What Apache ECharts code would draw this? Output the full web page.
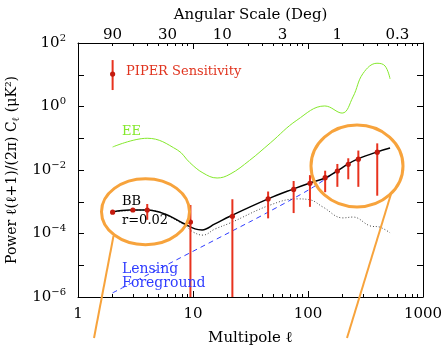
<!DOCTYPE html>
<html>
<head>
<meta charset="utf-8">
<script src="https://cdn.jsdelivr.net/npm/echarts@6/dist/echarts.min.js"></script>
<style>
  html, body { margin: 0; padding: 0; background: #fff; }
  #chart { width: 445px; height: 345px; }
</style>
</head>
<body>
<div id="chart"></div>
<script>
// EE spectrum
const eeL = [2.0, 4.0, 7.3, 9.4, 12.2, 16.2, 21, 31, 47, 80, 140, 198, 246, 301, 398, 467, 517];
const eeC = [0.053, 0.10, 0.043, 0.017, 0.0081, 0.0056, 0.0074, 0.020, 0.071, 0.37, 1.04, 0.62, 2.0, 11, 23, 19, 7.4];

// BB total, r = 0.02 + lensing
const bbL = [2, 2.8, 4, 5.7, 8.2, 10.4, 12, 15.5, 21, 45, 74, 104, 141, 179, 223, 272, 398, 517];
const bbC = [4.8e-4, 5.5e-4, 5.5e-4, 4.1e-4, 2.1e-4, 1.4e-4, 1.3e-4, 2.0e-4, 3.5e-4, 1.23e-3, 2.5e-3, 3.9e-3, 5.6e-3, 9.3e-3, 0.0155, 0.0224, 0.037, 0.049];

// primordial BB only (dotted)
const primL = [2, 4, 8.2, 10, 12.2, 15.5, 21, 47, 80, 104, 135, 201, 246, 346, 423, 517];
const primC = [4.8e-4, 5.5e-4, 2.0e-4, 1.12e-4, 8.9e-5, 1.38e-4, 2.14e-4, 7.9e-4, 1.23e-3, 1.15e-3, 6.8e-4, 3.1e-4, 3.3e-4, 1.74e-4, 1.58e-4, 1.05e-4];

// lensing foreground (dashed)
const lensL = [2, 31, 44, 104, 179];
const lensC = [1.35e-6, 2.3e-4, 4.5e-4, 2.5e-3, 9.3e-3];

// PIPER sensitivity: value, lower, upper
const pipL  = [2, 3, 4, 9.5, 22, 45, 75, 104, 141, 180, 224, 274, 400];
const pipC  = [4.7e-4, 5.5e-4, 5.5e-4, 2.3e-4, 3.5e-4, 1.23e-3, 2.45e-3, 3.8e-3, 5.75e-3, 9.3e-3, 0.0151, 0.0219, 0.0363];
const pipLo = [4.7e-4, 5.5e-4, 2.7e-4, 1e-6, 1e-6, 3.0e-4, 4.4e-4, 6.9e-4, 2.0e-3, 2.95e-3, 5.1e-3, 2.95e-3, 1.55e-3];
const pipHi = [4.7e-4, 5.5e-4, 8.5e-4, 7.9e-4, 1.2e-3, 2.1e-3, 4.5e-3, 6.9e-3, 9.5e-3, 0.0155, 0.0234, 0.041, 0.069];

// legend sample bar
const keyPoint = [2, 10.5, 3.3, 29];

// axis ticks
const xMajor = [1, 10, 100, 1000];
const xMinor = [2, 3, 4, 5, 6, 7, 8, 9, 20, 30, 40, 50, 60, 70, 80, 90, 200, 300, 400, 500, 600, 700, 800, 900];
const angTicks = [90, 30, 10, 3, 1, 0.3];

const serif = "'DejaVu Serif', serif";
const red = '#e8321e';
const orange = '#f7a33c';

function pairs(xs, ys) {
  return xs.map((x, i) => [x, ys[i]]);
}

function errBar(params, api) {
  const l = api.value(0);
  const mid = api.coord([l, api.value(1)]);
  const lo = api.coord([l, api.value(2)]);
  const hi = api.coord([l, api.value(3)]);
  return {
    type: 'group',
    children: [
      { type: 'line', shape: { x1: hi[0], y1: hi[1], x2: lo[0], y2: lo[1] },
        style: { stroke: red, lineWidth: 2 } },
      { type: 'circle', shape: { cx: mid[0], cy: mid[1], r: 2.6 },
        style: { fill: '#c41a0e' } }
    ]
  };
}

const chart = echarts.init(document.getElementById('chart'));

const axisLine = { show: true, lineStyle: { color: '#000', width: 1 } };

chart.setOption({
  animation: false,
  grid: { left: 78, right: 22, top: 43, bottom: 48, containLabel: false, outerBoundsMode: 'none' },
  xAxis: [
    {
      type: 'log', min: 1, max: 1000, position: 'bottom',
      axisLine: axisLine,
      axisTick: { inside: true, length: 6, lineStyle: { color: '#000' } },
      axisLabel: { color: '#000', fontFamily: serif, fontSize: 15, margin: 10, formatter: v => String(v) },
      splitLine: { show: false },
      name: 'Multipole ℓ', nameLocation: 'middle', nameGap: 34,
      nameTextStyle: { color: '#000', fontFamily: serif, fontSize: 15 }
    },
    {
      type: 'log', min: 1, max: 1000, position: 'bottom',
      axisLine: { show: false },
      axisTick: { inside: true, length: 3, customValues: xMinor, lineStyle: { color: '#000' } },
      axisLabel: { show: false },
      splitLine: { show: false }
    },
    {
      type: 'log', min: 1, max: 1000, position: 'top',
      axisLine: axisLine,
      axisTick: { inside: true, length: 6, customValues: xMajor, lineStyle: { color: '#000' } },
      axisLabel: {
        customValues: angTicks.map(a => 180 / a),
        formatter: v => String(Math.round(1800 / v) / 10),
        color: '#000', fontFamily: serif, fontSize: 15, margin: 0
      },
      splitLine: { show: false },
      name: 'Angular Scale (Deg)', nameLocation: 'middle', nameGap: 15,
      nameTextStyle: { color: '#000', fontFamily: serif, fontSize: 15 }
    },
    {
      type: 'log', min: 1, max: 1000, position: 'top',
      axisLine: { show: false },
      axisTick: { inside: true, length: 3, customValues: xMinor, lineStyle: { color: '#000' } },
      axisLabel: { show: false },
      splitLine: { show: false }
    }
  ],
  yAxis: [
    {
      type: 'log', min: 1e-6, max: 1e2, position: 'left',
      axisLine: axisLine,
      axisTick: { inside: true, length: 6, lineStyle: { color: '#000' } },
      axisLabel: {
        margin: 12,
        formatter: function (v) {
          const e = Math.round(Math.log10(v));
          if (e % 2 !== 0) return '';
          return '{b|10}{s|' + (e < 0 ? '\u2212' + (-e) : e) + '}';
        },
        rich: {
          b: { color: '#000', fontFamily: serif, fontSize: 15 },
          s: { color: '#000', fontFamily: serif, fontSize: 10, padding: [0, 0, 10, 0] }
        }
      },
      splitLine: { show: false },
      name: '{n|Power ℓ(ℓ+1)/(2π) C}{sub|ℓ}{n| (μK²)}',
      nameLocation: 'middle', nameRotate: 90, nameGap: 54,
      nameTextStyle: {
        rich: {
          n: { color: '#000', fontFamily: serif, fontSize: 14 },
          sub: { color: '#000', fontFamily: serif, fontSize: 10, padding: [8, 0, 0, 0] }
        }
      }
    },
    {
      type: 'log', min: 1e-6, max: 1e2, position: 'right',
      axisLine: axisLine,
      axisTick: { inside: true, length: 6, lineStyle: { color: '#000' } },
      axisLabel: { show: false },
      splitLine: { show: false }
    }
  ],
  series: [
    {
      name: 'EE', type: 'line', xAxisIndex: 0, yAxisIndex: 0,
      data: pairs(eeL, eeC), smooth: 0.4, symbol: 'none',
      lineStyle: { color: '#84e82c', width: 1 }
    },
    {
      name: 'lensing', type: 'line', xAxisIndex: 0, yAxisIndex: 0,
      data: pairs(lensL, lensC), smooth: 0.3, symbol: 'none',
      lineStyle: { color: '#2f3cff', width: 1, type: [5, 4] }
    },
    {
      name: 'primordial', type: 'line', xAxisIndex: 0, yAxisIndex: 0,
      data: pairs(primL, primC), smooth: 0.4, symbol: 'none',
      lineStyle: { color: '#444', width: 1, type: [1, 2] }
    },
    {
      name: 'BB', type: 'line', xAxisIndex: 0, yAxisIndex: 0,
      data: pairs(bbL, bbC), smooth: 0.4, symbol: 'none',
      lineStyle: { color: '#000', width: 1.5 }
    },
    {
      name: 'PIPER', type: 'custom', xAxisIndex: 0, yAxisIndex: 0,
      renderItem: errBar,
      encode: { x: 0, y: [1, 2, 3] },
      data: pipL.map((l, i) => [l, pipC[i], pipLo[i], pipHi[i]]).concat([keyPoint]),
      z: 5
    }
  ],
  graphic: [
    { type: 'text', z: 50, style: { text: 'PIPER Sensitivity', x: 126, y: 72, fill: '#e0341f', font: '13px ' + serif, verticalAlign: 'middle' } },
    { type: 'text', z: 50, style: { text: 'EE', x: 122, y: 132, fill: '#84e82c', font: '13px ' + serif, verticalAlign: 'middle' } },
    { type: 'text', z: 50, style: { text: 'BB', x: 122, y: 202, fill: '#000', font: '13px ' + serif, verticalAlign: 'middle' } },
    { type: 'text', z: 50, style: { text: 'r=0.02', x: 122, y: 221, fill: '#000', font: '13px ' + serif, verticalAlign: 'middle' } },
    { type: 'text', z: 50, style: { text: 'Lensing', x: 122, y: 269, fill: '#2f3cff', font: '14px ' + serif, verticalAlign: 'middle' } },
    { type: 'text', z: 50, style: { text: 'Foreground', x: 122, y: 283, fill: '#2f3cff', font: '14px ' + serif, verticalAlign: 'middle' } },
    { type: 'ellipse', z: 60, shape: { cx: 145.5, cy: 211.7, rx: 44, ry: 33 }, style: { fill: 'none', stroke: orange, lineWidth: 3 } },
    { type: 'ellipse', z: 60, shape: { cx: 357, cy: 166, rx: 46, ry: 41 }, style: { fill: 'none', stroke: orange, lineWidth: 3 } },
    { type: 'line', z: 60, shape: { x1: 113.5, y1: 236, x2: 94, y2: 338 }, style: { stroke: orange, lineWidth: 2 } },
    { type: 'line', z: 60, shape: { x1: 391, y1: 194, x2: 347, y2: 338 }, style: { stroke: orange, lineWidth: 2 } }
  ]
});
</script>
</body>
</html>
